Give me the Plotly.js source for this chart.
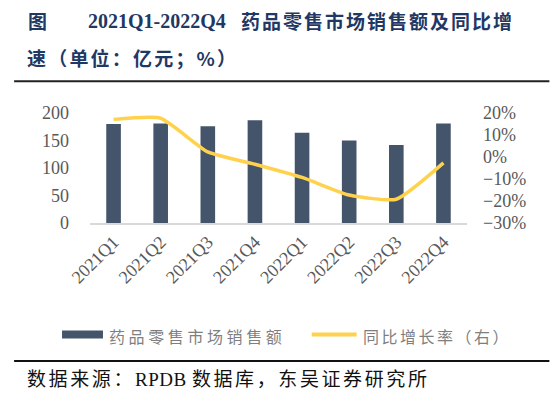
<!DOCTYPE html>
<html>
<head>
<meta charset="utf-8">
<script src="https://cdn.plot.ly/plotly-3.0.1.min.js"></script>
<style>html,body{margin:0;padding:0;background:#fff;}#chart{width:550px;height:393px;}</style>
</head>
<body>
<div id="chart"></div>
<script>
// ---- data ----
var quarters = ['2021Q1','2021Q2','2021Q3','2021Q4','2022Q1','2022Q2','2022Q3','2022Q4'];
var sales = [180, 181, 176, 187, 164, 150, 142, 181];          // 亿元
var yoy = [17.1, 17.6, 2.3, -3.3, -9.3, -17.3, -19.2, -2.7];   // %
var seriesNames = ['药品零售市场销售额', '同比增长率（右）'];
var titleLine1Cn = '药品零售市场销售额及同比增';
var titleLine2 = '速（单位：亿元；%）';
var sourceParts = ['数据来源：', 'RPDB ', '数据库，东吴证券研究所'];

// ---- layout helpers ----
var W = 550, H = 393, L = 90, R = 82.5, T = 112.5, B = 170;
function px(x){ return (x - L) / (W - L - R); }
function py(y){ return (H - B - y) / (H - T - B); }

var barColor = '#44546A';
var lineColor = '#FFD24D';
var serif = 'Liberation Serif, Times New Roman, serif';
var cjk = 'Noto Sans CJK SC, sans-serif';
var mixed = 'Liberation Serif, Noto Sans CJK SC, serif';

var traces = [
  {type:'bar', x: quarters, y: sales, name: seriesNames[0], marker:{color: barColor}, yaxis:'y', showlegend:false},
  {type:'scatter', mode:'lines', x: quarters, y: yoy, name: seriesNames[1], yaxis:'y2',
   line:{color: lineColor, width: 3.5, shape:'spline', smoothing:0.5}, showlegend:false}
];

var sp = function(t, ls){ return '<span style="letter-spacing:' + ls + 'px">' + t + '</span>'; };

var layout = {
  width: W, height: H,
  margin: {l: L, r: R, t: T, b: B},
  paper_bgcolor: '#fff', plot_bgcolor: '#fff',
  bargap: 0.69,
  xaxis: {
    type:'category', tickangle: -45, showgrid:false, zeroline:false,
    showline:true, linecolor:'#d9d9d9', linewidth:1.5, ticks:'',
    tickfont:{family: serif, size: 18, color:'#595959'}
  },
  yaxis: {
    range:[0,200], dtick:50, showgrid:false, zeroline:false, showline:false, ticks:'',
    ticklabelstandoff: 20,
    tickfont:{family: serif, size: 18, color:'#595959'}
  },
  yaxis2: {
    overlaying:'y', side:'right', range:[-30,20], dtick:10, showgrid:false, zeroline:false,
    showline:false, ticks:'', ticksuffix:'%', ticklabelstandoff: 15,
    tickfont:{family: serif, size: 18, color:'#595959'}
  },
  shapes: [
    {type:'line', xref:'paper', yref:'paper', x0:px(14), x1:px(550), y0:py(80.7), y1:py(80.7), line:{color:'#222', width:2}},
    {type:'line', xref:'paper', yref:'paper', x0:px(14), x1:px(550), y0:py(361.7), y1:py(361.7), line:{color:'#111', width:2}},
    {type:'rect', xref:'paper', yref:'paper', x0:px(62), x1:px(103), y0:py(339), y1:py(331), fillcolor: barColor, line:{width:0}},
    {type:'line', xref:'paper', yref:'paper', x0:px(312), x1:px(357), y0:py(335), y1:py(335), line:{color: lineColor, width:4}}
  ],
  annotations: [
    {xref:'paper', yref:'paper', x:px(26), y:py(20), xanchor:'left', yanchor:'middle', showarrow:false,
     text:'<b>图</b>', font:{family: cjk, size:19, color:'#1f3864'}},
    {xref:'paper', yref:'paper', x:px(86), y:py(20), xanchor:'left', yanchor:'middle', showarrow:false,
     text:'<b>2021Q1-2022Q4</b>', font:{family: serif, size:20, color:'#1f3864'}},
    {xref:'paper', yref:'paper', x:px(239), y:py(20), xanchor:'left', yanchor:'middle', showarrow:false,
     text:'<b>' + sp(titleLine1Cn, 2) + '</b>', font:{family: cjk, size:19, color:'#1f3864'}},
    {xref:'paper', yref:'paper', x:px(25), y:py(57), xanchor:'left', yanchor:'middle', showarrow:false,
     text:'<b>' + sp(titleLine2, 2.2) + '</b>', font:{family: cjk, size:19, color:'#1f3864'}},
    {xref:'paper', yref:'paper', x:px(107), y:py(337), xanchor:'left', yanchor:'middle', showarrow:false,
     text: sp(seriesNames[0], 3.6), font:{family: cjk, size:16, color:'#7f7f7f'}},
    {xref:'paper', yref:'paper', x:px(361), y:py(337), xanchor:'left', yanchor:'middle', showarrow:false,
     text: sp(seriesNames[1], 2.5), font:{family: cjk, size:16, color:'#7f7f7f'}},
    {xref:'paper', yref:'paper', x:px(25), y:py(380), xanchor:'left', yanchor:'middle', showarrow:false,
     text: sp(sourceParts[0], 2.6) + sp(sourceParts[1], 0.5) + sp(sourceParts[2], 2.6),
     font:{family: mixed, size:19, color:'#111'}}
  ]
};

Plotly.newPlot('chart', traces, layout, {displayModeBar:false, staticPlot:true});
</script>
</body>
</html>
